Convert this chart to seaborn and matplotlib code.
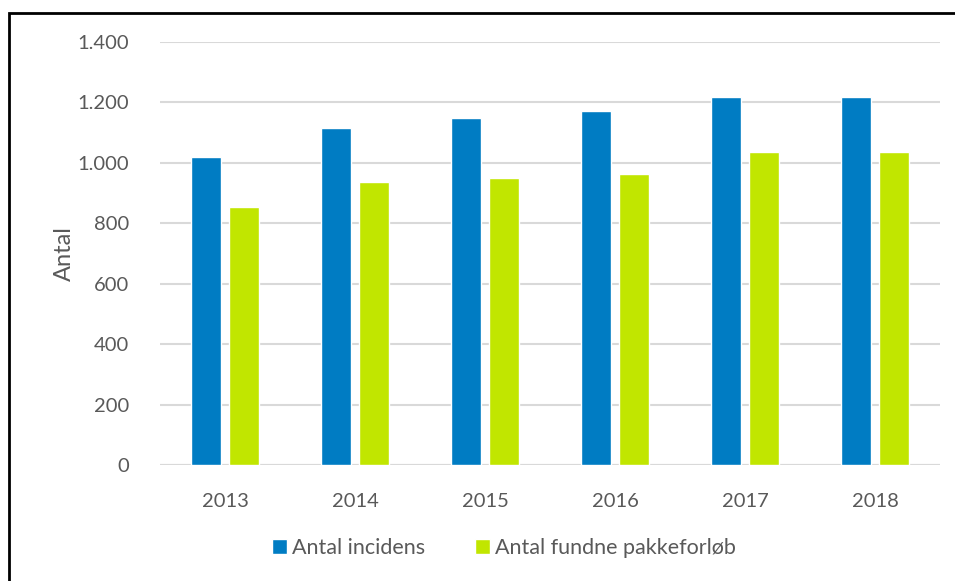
import matplotlib
matplotlib.use("Agg")
import matplotlib.pyplot as plt
import seaborn as sns
import pandas as pd
from matplotlib.patches import Rectangle

years = ["2013", "2014", "2015", "2016", "2017", "2018"]
incidens = [1018, 1114, 1150, 1172, 1218, 1218]
pakkeforloeb = [853, 937, 951, 964, 1035, 1035]
series_names = ["Antal incidens", "Antal fundne pakkeforløb"]
yticks = [0, 200, 400, 600, 800, 1000, 1200, 1400]
ytick_labels = ["0", "200", "400", "600", "800", "1.000", "1.200", "1.400"]

df = pd.DataFrame({
    "year": years * 2,
    "value": incidens + pakkeforloeb,
    "series": [series_names[0]] * len(years) + [series_names[1]] * len(years),
})

sns.set_theme(style="white")
plt.rcParams["font.family"] = ["Lato", "DejaVu Sans"]

W, H = 955, 581
fig = plt.figure(figsize=(W / 100, H / 100), dpi=100)
ax = fig.add_axes([160 / W, 1 - 465 / H, 780 / W, 423 / H])

palette = {series_names[0]: "#007CC3", series_names[1]: "#C1E600"}
sns.barplot(data=df, x="year", y="value", hue="series", palette=palette,
            width=0.58, gap=0.2, saturation=1, ax=ax, legend=True)

ax.set_ylim(0, 1400)
ax.set_xlim(-0.5, 5.5)
ax.set_yticks(yticks)
ax.set_yticklabels(ytick_labels)
ax.yaxis.grid(True, color="#D9D9D9", linewidth=1.5)
ax.set_axisbelow(True)
for s in ax.spines.values():
    s.set_visible(False)
ax.axhline(0, color="#D9D9D9", linewidth=1.5, zorder=0.5)
ax.tick_params(axis="y", length=0, pad=22, labelsize=14.5, labelcolor="#595959")
ax.tick_params(axis="x", length=0, pad=20, labelsize=14.5, labelcolor="#595959")
ax.set_xlabel("")
ax.set_ylabel("Antal", fontsize=17, color="#595959", labelpad=2)

leg = ax.legend(loc="center", bbox_to_anchor=(504 / W, 1 - 548 / H),
                bbox_transform=fig.transFigure, ncol=2, frameon=False,
                fontsize=15.5, handlelength=0.7, handleheight=0.7,
                handletextpad=0.25, columnspacing=2.3)
for t in leg.get_texts():
    t.set_color("#595959")

fig.patches.append(Rectangle((9 / W, -0.05), 1.0, 1 - 13 / H + 0.05,
                             transform=fig.transFigure, fill=False,
                             edgecolor="black", linewidth=2, zorder=10))

fig.savefig("out.png", dpi=100)
